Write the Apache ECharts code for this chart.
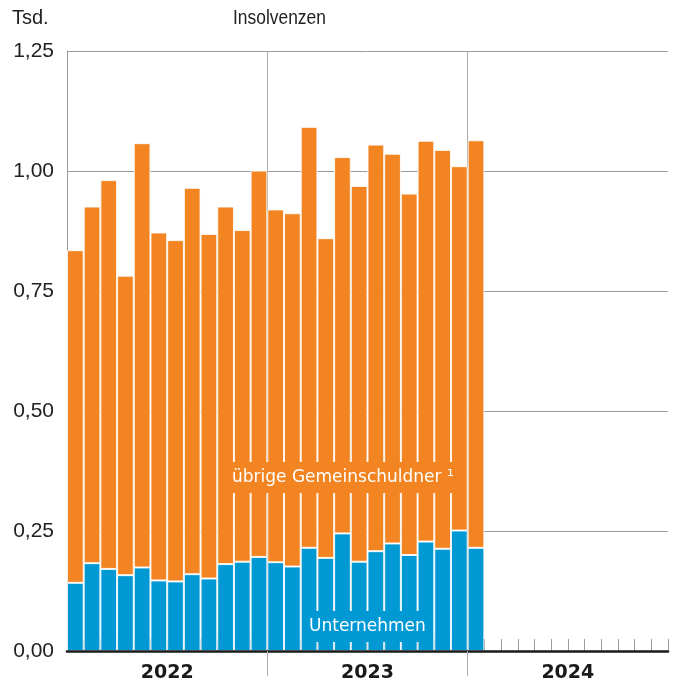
<!DOCTYPE html>
<html>
<head>
<meta charset="utf-8">
<script src="https://cdn.jsdelivr.net/npm/echarts@6/dist/echarts.min.js"></script>
<style>
  html, body { margin: 0; padding: 0; background: #fff; }
  #main { width: 678px; height: 685px; }
</style>
</head>
<body>
<div id="main"></div>
<script>
// Jahre und Monate der x-Achse
var years = ['2022', '2023', '2024'];
var monthNames = ['Jan', 'Feb', 'Mär', 'Apr', 'Mai', 'Jun', 'Jul', 'Aug', 'Sep', 'Okt', 'Nov', 'Dez'];

// Insolvenzen in Tsd. (Jan 2022 - Jan 2024)
var unternehmen = [0.142, 0.183, 0.171, 0.158, 0.174, 0.147, 0.145, 0.160, 0.151, 0.181, 0.186, 0.196,
  0.185, 0.176, 0.215, 0.194, 0.245, 0.186, 0.208, 0.224, 0.200, 0.228, 0.213, 0.251, 0.215];
var uebrige = [0.693, 0.743, 0.810, 0.624, 0.884, 0.725, 0.711, 0.805, 0.718, 0.745, 0.691, 0.805,
  0.735, 0.736, 0.877, 0.666, 0.784, 0.783, 0.847, 0.812, 0.753, 0.835, 0.831, 0.759, 0.849];

var yTicks = [0, 0.25, 0.5, 0.75, 1, 1.25];

var ORANGE = '#f28421';
var BLUE = '#0099d4';
var GRAY = '#9b9b9b';
var sans = '"Liberation Sans", Arial, sans-serif';
var wide = '"DejaVu Sans", sans-serif';

var months = [];
years.forEach(function (y) {
  monthNames.forEach(function (m) { months.push(m + ' ' + y); });
});
// Monatsgrenzen (0..36) für die Jahrestrenner
var bounds = [];
for (var i = 0; i <= months.length; i++) bounds.push(String(i));
var isYearBound = function (idx) { return idx > 0 && idx < months.length && idx % 12 === 0; };

var chart = echarts.init(document.getElementById('main'));

chart.setOption({
  animation: false,
  grid: { left: 67, right: 10, top: 51, bottom: 34 },
  graphic: [
    { type: 'text', x: 12, y: 8, style: { text: 'Tsd.', fill: '#222', font: '20px ' + sans, textVerticalAlign: 'top' } },
    { type: 'text', x: 233, y: 8, scaleX: 0.87, style: { text: 'Insolvenzen', fill: '#222', font: '20px ' + sans, textVerticalAlign: 'top' } },
    {
      type: 'text', left: 223, top: 462, z: 100,
      style: {
        text: 'übrige Gemeinschuldner ¹', fill: '#fff', font: '17px ' + wide,
        backgroundColor: ORANGE, padding: [7, 9, 7, 9]
      }
    },
    {
      type: 'text', left: 302, top: 611, z: 100,
      style: {
        text: 'Unternehmen', fill: '#fff', font: '17px ' + wide,
        backgroundColor: BLUE, padding: [7, 7, 7, 7]
      }
    }
  ],
  xAxis: [
    {
      type: 'category', data: months, position: 'bottom',
      axisLine: { show: false },
      axisTick: { show: true, inside: true, length: 12, interval: 0, lineStyle: { color: GRAY, width: 1 } },
      axisLabel: { show: false },
      splitLine: { show: false }
    },
    {
      type: 'category', data: bounds, boundaryGap: false, position: 'bottom',
      axisLine: { show: false },
      axisTick: { show: false },
      axisLabel: { show: false },
      splitLine: { show: true, interval: function (idx) { return isYearBound(idx); }, lineStyle: { color: '#aaaaaa', width: 1 } }
    },
    {
      type: 'category', data: bounds, boundaryGap: false, position: 'bottom', z: 10,
      axisLine: { show: true, lineStyle: { color: '#1a1a1a', width: 2.5 } },
      axisTick: { show: true, length: 25, interval: function (idx) { return isYearBound(idx); }, lineStyle: { color: '#aaaaaa', width: 1 } },
      axisLabel: { show: false },
      splitLine: { show: false }
    },
    {
      type: 'category', data: years, position: 'bottom',
      axisLine: { show: false },
      axisTick: { show: false },
      axisLabel: { show: true, margin: 13, color: '#1a1a1a', fontFamily: wide, fontWeight: 'bold', fontSize: 19 },
      splitLine: { show: false }
    }
  ],
  yAxis: {
    type: 'value', min: yTicks[0], max: yTicks[yTicks.length - 1], interval: 0.25,
    axisLine: { show: true, lineStyle: { color: GRAY, width: 1 } },
    axisTick: { show: false },
    axisLabel: {
      margin: 13, color: '#222', fontFamily: sans, fontSize: 21,
      formatter: function (v) { return v.toFixed(2).replace('.', ','); }
    },
    splitLine: { show: true, lineStyle: { color: GRAY, width: 1 } }
  },
  series: [
    {
      name: 'Unternehmen', type: 'bar', stack: 'ins', xAxisIndex: 0,
      barCategoryGap: '0%', data: unternehmen,
      itemStyle: { color: BLUE, borderColor: 'rgba(255,255,255,0.85)', borderWidth: 1 }
    },
    {
      name: 'übrige Gemeinschuldner', type: 'bar', stack: 'ins', xAxisIndex: 0,
      barCategoryGap: '0%', data: uebrige,
      itemStyle: { color: ORANGE, borderColor: 'rgba(255,255,255,0.85)', borderWidth: 1 }
    }
  ]
});
</script>
</body>
</html>
